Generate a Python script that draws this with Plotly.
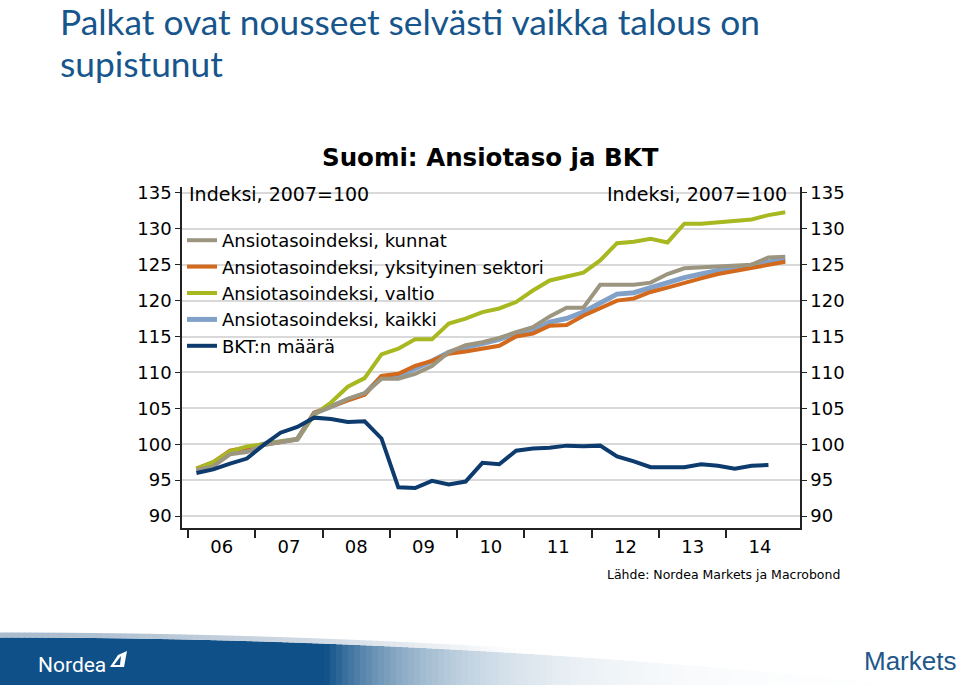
import math
import plotly.graph_objects as go

# ---------------- data ----------------
years = list(range(2006, 2015))
quarters = [f"{y}Q{q}" for y in years for q in range(1, 5)]
year_labels = ["06", "07", "08", "09", "10", "11", "12", "13", "14"]

kunnat = [96.4, 96.9, 98.6, 98.9, 99.9, 100.3, 100.7, 104.3, 105.2, 106.3, 107.1, 109.1,
          109.1, 109.8, 110.9, 112.8, 113.8, 114.2, 114.8, 115.6, 116.3, 117.8, 119.0, 119.0,
          122.2, 122.2, 122.2, 122.5, 123.7, 124.5, 124.6, 124.7, 124.9, 125.0, 126.0, 126.1]
yksityinen = [96.6, 97.5, 99.1, 99.6, 100.0, 100.3, 100.7, 104.4, 105.3, 106.1, 106.9, 109.5,
              109.8, 110.9, 111.6, 112.6, 112.9, 113.3, 113.7, 115.0, 115.4, 116.5, 116.6, 117.9,
              118.9, 120.0, 120.3, 121.2, 121.8, 122.5, 123.1, 123.7, 124.1, 124.6, 125.0, 125.4]
valtio = [96.6, 97.5, 99.0, 99.7, 100.0, 100.3, 100.7, 104.1, 105.8, 108.0, 109.2, 112.5,
          113.3, 114.6, 114.6, 116.8, 117.5, 118.4, 118.9, 119.8, 121.4, 122.8, 123.4, 123.9,
          125.6, 128.0, 128.2, 128.6, 128.1, 130.7, 130.7, 130.9, 131.0, 131.3, 131.9, 132.3]
kaikki = [96.5, 97.2, 98.8, 99.3, 100.0, 100.3, 100.7, 104.3, 105.3, 106.2, 107.0, 109.4,
          109.5, 110.5, 111.6, 112.8, 113.5, 114.0, 114.6, 115.4, 115.8, 117.0, 117.5, 118.4,
          119.7, 120.9, 121.1, 121.8, 122.4, 123.2, 123.7, 124.2, 124.5, 124.9, 125.4, 125.8]
bkt = [96.0, 96.5, 97.3, 98.0, 99.9, 101.6, 102.4, 103.7, 103.5, 103.1, 103.2, 100.8,
       94.0, 93.9, 94.9, 94.4, 94.8, 97.4, 97.2, 99.1, 99.4, 99.5, 99.8, 99.7,
       99.8, 98.3, 97.6, 96.8, 96.8, 96.8, 97.2, 97.0, 96.6, 97.0, 97.1]
y_ticks = [90, 95, 100, 105, 110, 115, 120, 125, 130, 135]


def qpos(label):
    y, q = label.split("Q")
    return int(y) + (int(q) - 0.5) / 4.0


xq = [qpos(q) for q in quarters]

# ---------------- layout geometry ----------------
W, H = 960, 685
L, R, T, B = 182, 160, 187, 157
PW, PH = W - L - R, H - T - B


def px(x):
    return (x - L) / PW


def py(y):
    return (H - B - y) / PH


FONT = "DejaVu Sans"
series = [
    ("Ansiotasoindeksi, kaikki", kaikki, "#82A1C8", 5, 4),
    ("Ansiotasoindeksi, yksityinen sektori", yksityinen, "#D2691C", 4, 2),
    ("Ansiotasoindeksi, valtio", valtio, "#A8B820", 4, 3),
    ("Ansiotasoindeksi, kunnat", kunnat, "#9C9580", 4, 1),
]

fig = go.Figure()
for name, vals, col, w, rank in series:
    fig.add_trace(go.Scatter(x=xq, y=vals, mode="lines", name=name,
                             line=dict(color=col, width=w), legendrank=rank))
fig.add_trace(go.Scatter(x=xq[:len(bkt)], y=bkt, mode="lines", name="BKT:n määrä",
                         line=dict(color="#0D3B6E", width=4), legendrank=5))
# invisible trace on the right axis so it is drawn
fig.add_trace(go.Scatter(x=[xq[0]], y=[bkt[0]], yaxis="y2", mode="lines",
                         showlegend=False, hoverinfo="skip", line=dict(width=0)))

yr = [88.33, 135.82]
fig.update_layout(
    width=W, height=H,
    margin=dict(l=L, r=R, t=T, b=B),
    paper_bgcolor="white", plot_bgcolor="white",
    font=dict(family=FONT, size=18, color="#000000"),
    showlegend=True,
    legend=dict(x=px(182), y=py(222), xanchor="left", yanchor="top",
                bgcolor="rgba(255,255,255,0)", font=dict(family=FONT, size=18),
                traceorder="normal"),
    xaxis=dict(range=[2005.911, 2015.094], showgrid=False, zeroline=False,
               tickmode="array", tickvals=[y + 0.5 for y in years], ticktext=year_labels,
               ticks="", showline=True, linecolor="#222222", linewidth=1.5,
               ticklabelstandoff=2,
               minor=dict(tickmode="array", tickvals=years, ticks="outside",
                          ticklen=8, tickwidth=1.5, tickcolor="#222222", showgrid=False),
               tickfont=dict(family=FONT, size=18)),
    yaxis=dict(range=yr, tickmode="array", tickvals=y_ticks, showgrid=True,
               gridcolor="#D9D9D9", gridwidth=2, zeroline=False, showline=True,
               linecolor="#222222", linewidth=1.5, ticks="outside", ticklen=5,
               tickcolor="#222222", tickfont=dict(family=FONT, size=18)),
    yaxis2=dict(range=yr, overlaying="y", side="right", tickmode="array",
                tickvals=y_ticks, showgrid=False, zeroline=False, showline=True,
                linecolor="#222222", linewidth=1.5, ticks="outside", ticklen=5,
                tickcolor="#222222", tickfont=dict(family=FONT, size=18)),
)

ann = []
ann.append(dict(text="Palkat ovat nousseet selvästi vaikka talous on", x=px(58), y=py(21),
                xanchor="left", yanchor="middle",
                font=dict(family="Lato", size=35.3, color="#17568C")))
ann.append(dict(text="supistunut", x=px(58), y=py(63), xanchor="left", yanchor="middle",
                font=dict(family="Lato", size=35.3, color="#17568C")))
ann.append(dict(text="<b>Suomi: Ansiotaso ja BKT</b>", x=px(490), y=py(157),
                xanchor="center", yanchor="middle",
                font=dict(family=FONT, size=24.5, color="#000000")))
ann.append(dict(text="Indeksi, 2007=100", x=px(187), y=py(194), xanchor="left",
                yanchor="middle", font=dict(family=FONT, size=19)))
ann.append(dict(text="Indeksi, 2007=100", x=px(789), y=py(194), xanchor="right",
                yanchor="middle", font=dict(family=FONT, size=19)))
ann.append(dict(text="Lähde: Nordea Markets ja Macrobond", x=px(842), y=py(574),
                xanchor="right", yanchor="middle", font=dict(family=FONT, size=12.5)))
ann.append(dict(text="Nordea", x=px(36), y=py(665), xanchor="left", yanchor="middle",
                font=dict(family="Roboto", size=21, color="white")))
ann.append(dict(text="Markets", x=px(958), y=py(661), xanchor="right", yanchor="middle",
                font=dict(family="Liberation Sans", size=26, color="#21578A")))
for a in ann:
    a.update(xref="paper", yref="paper", showarrow=False)
fig.update_layout(annotations=ann)

# ---------------- footer band (decoration) ----------------
shapes = []
dark = (14, 80, 135)
light = (160, 180, 200)


def mix(c, t):
    return "rgb(%d,%d,%d)" % tuple(round(ci + (255 - ci) * t) for ci in c)


step = 6
for x0 in range(0, W, step):
    x1 = x0 + step
    xm = (x0 + x1) / 2
    t = 0.0 if xm < 325 else 1.0 - math.exp(-(xm - 325) / 104.0)
    top = 637.5 + 6.0 * (xm / 320.0) ** 2
    if top > H:
        continue
    shapes.append(dict(type="rect", xref="paper", yref="paper",
                       x0=px(x0), x1=px(x1 + 0.6), y0=py(H + 2), y1=py(top),
                       fillcolor=mix(dark, t), line=dict(width=0), layer="above"))
    t2 = min(1.0, 0.1 + (xm / 560.0) ** 1.5)
    shapes.append(dict(type="rect", xref="paper", yref="paper",
                       x0=px(x0), x1=px(x1 + 0.6), y0=py(top), y1=py(top - 5),
                       fillcolor=mix(light, t2), line=dict(width=0), layer="above"))
# small sail mark of the logo
shapes.append(dict(type="path", xref="paper", yref="paper",
                   path="M %f %f L %f %f L %f %f L %f %f Z" % (px(110), py(667), px(118), py(655),
                                                            px(127), py(651), px(124), py(667)),
                   fillcolor="white", line=dict(width=0), layer="above"))
shapes.append(dict(type="path", xref="paper", yref="paper",
                   path="M %f %f L %f %f L %f %f Z" % (px(114), py(665), px(121), py(656),
                                                      px(120), py(665)),
                   fillcolor="rgb(14,80,135)", line=dict(width=0), layer="above"))
fig.update_layout(shapes=shapes)

fig.write_html("out.html", config={"displayModeBar": False},
               post_script="document.body.style.margin='0';document.body.style.overflow='hidden';")
